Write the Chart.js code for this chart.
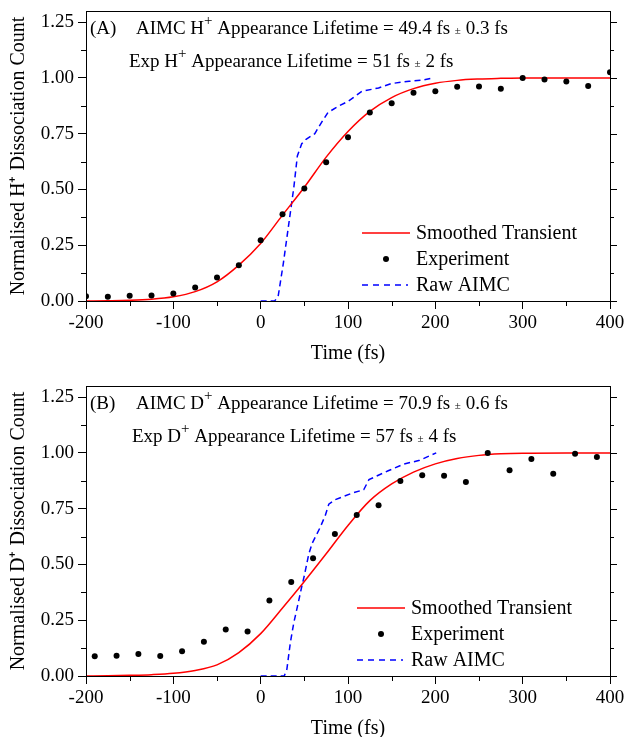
<!DOCTYPE html>
<html>
<head>
<meta charset="utf-8">
<script src="https://cdn.jsdelivr.net/npm/chart.js@4"></script>
<style>
  html, body { margin: 0; padding: 0; background: #fff; overflow: hidden; }
  .panel { position: absolute; left: 0; width: 625px; height: 370px; }
</style>
</head>
<body>
<div class="panel" style="top:0"><canvas id="chartA"></canvas></div>
<div class="panel" style="top:375px"><canvas id="chartB"></canvas></div>
<script>
// panel A : H+
const expTimeA = [-200, -175, -150, -125, -100, -75, -50, -25, 0, 25, 50, 75, 100, 125, 150, 175, 200, 225, 250, 275, 300, 325, 350, 375, 400];
const expCountA = [0.021, 0.019, 0.024, 0.025, 0.034, 0.061, 0.105, 0.160, 0.272, 0.389, 0.504, 0.622, 0.734, 0.845, 0.886, 0.934, 0.940, 0.960, 0.961, 0.952, 1.000, 0.993, 0.984, 0.964, 1.025];
const fitTimeA = [-200, -175, -150, -125, -100, -75, -50, -25, 0, 25, 50, 75, 100, 125, 150, 175, 200, 225, 250, 275, 300, 350, 400];
const fitCountA = [0.000, 0.001, 0.003, 0.008, 0.019, 0.042, 0.086, 0.161, 0.258, 0.385, 0.510, 0.645, 0.760, 0.850, 0.912, 0.952, 0.976, 0.989, 0.995, 0.998, 1.000, 1.000, 1.000];
const rawTimeA = [0, 16, 20, 26, 32, 38, 42, 47, 52, 62, 68, 77, 90, 100, 116, 135, 150, 170, 185, 197];
const rawCountA = [0, 0, 0.02, 0.17, 0.34, 0.51, 0.65, 0.705, 0.725, 0.75, 0.79, 0.845, 0.875, 0.895, 0.94, 0.955, 0.975, 0.985, 0.99, 1.0];

// panel B : D+
const expTimeB = [-190, -165, -140, -115, -90, -65, -40, -15, 10, 35, 60, 85, 110, 135, 160, 185, 210, 235, 260, 285, 310, 335, 360, 385];
const expCountB = [0.088, 0.091, 0.099, 0.090, 0.111, 0.154, 0.208, 0.200, 0.339, 0.421, 0.528, 0.637, 0.722, 0.765, 0.874, 0.900, 0.898, 0.870, 1.000, 0.922, 0.973, 0.907, 0.996, 0.982];
const fitTimeB = [-200, -175, -150, -125, -100, -75, -50, -25, 0, 25, 50, 75, 100, 125, 150, 175, 200, 225, 250, 275, 300, 350, 400];
const fitCountB = [0.000, 0.001, 0.003, 0.006, 0.012, 0.025, 0.050, 0.105, 0.190, 0.305, 0.424, 0.548, 0.675, 0.786, 0.861, 0.914, 0.951, 0.975, 0.989, 0.996, 0.999, 1.000, 1.000];
const rawTimeB = [0, 27, 30, 34, 38, 42, 47, 50, 55, 59, 68, 74, 78, 85, 95, 105, 118, 124, 132, 146, 164, 182, 201];
const rawCountB = [0, 0, 0.03, 0.15, 0.24, 0.31, 0.40, 0.45, 0.545, 0.595, 0.665, 0.72, 0.77, 0.79, 0.805, 0.82, 0.835, 0.88, 0.895, 0.92, 0.95, 0.967, 1.0];

const xTicks = [-200, -100, 0, 100, 200, 300, 400];
const yTicks = [0, 0.25, 0.5, 0.75, 1.0, 1.25];
const legendLabels = ['Smoothed Transient', 'Experiment', 'Raw AIMC'];

const SERIF = '"Liberation Serif", "Times New Roman", serif';

function pts(xs, ys) {
  return xs.map((x, i) => ({ x: x, y: ys[i] }));
}

// text pieces, with superscript and small ±
function drawPieces(ctx, x, y, pieces) {
  pieces.forEach(p => {
    ctx.font = p.size + 'px ' + SERIF;
    ctx.fillText(p.t, x, y - (p.up || 0));
    x += ctx.measureText(p.t).width;
  });
}

const framePlugin = {
  id: 'frame',
  afterDraw(chart) {
    const { ctx, chartArea: a, scales } = chart;
    const o = chart.options.plugins.frame;
    ctx.save();
    ctx.strokeStyle = '#000';
    ctx.lineWidth = 1;
    ctx.strokeRect(a.left + 0.5, a.top + 0.5, a.right - a.left, a.bottom - a.top);

    // minor ticks + mirrored ticks on the right
    ctx.beginPath();
    for (let v = -150; v < 400; v += 100) {
      const px = Math.round(scales.x.getPixelForValue(v)) + 0.5;
      ctx.moveTo(px, a.bottom); ctx.lineTo(px, a.bottom + 5);
    }
    for (let v = 0.125; v < 1.3; v += 0.25) {
      const py = Math.round(scales.y.getPixelForValue(v)) + 0.5;
      ctx.moveTo(a.left, py); ctx.lineTo(a.left - 5, py);
      ctx.moveTo(a.right, py); ctx.lineTo(a.right + 4, py);
    }
    yTicks.forEach(v => {
      const py = Math.round(scales.y.getPixelForValue(v)) + 0.5;
      ctx.moveTo(a.right, py); ctx.lineTo(a.right + 7, py);
    });
    ctx.stroke();

    // annotation text
    ctx.fillStyle = '#000';
    ctx.textBaseline = 'alphabetic';
    ctx.font = '19px ' + SERIF;
    ctx.fillText(o.panel, 90, 34);
    drawPieces(ctx, 136, 34, [
      { t: 'AIMC ' + o.ion, size: 19 },
      { t: '+', size: 15, up: 9 },
      { t: ' Appearance Lifetime = ' + o.aimc + ' fs ', size: 19 },
      { t: '±', size: 11 },
      { t: ' ' + o.aimcErr + ' fs', size: 19 }
    ]);
    drawPieces(ctx, o.expX, 67, [
      { t: 'Exp ' + o.ion, size: 19 },
      { t: '+', size: 15, up: 9 },
      { t: ' Appearance Lifetime = ' + o.exp + ' fs ', size: 19 },
      { t: '±', size: 11 },
      { t: ' ' + o.expErr + ' fs', size: 19 }
    ]);

    // legend
    const lx = o.legX;
    const rows = [233, 259, 285];
    ctx.strokeStyle = '#ff0000';
    ctx.lineWidth = 1.5;
    ctx.beginPath(); ctx.moveTo(lx, rows[0]); ctx.lineTo(lx + 48, rows[0]); ctx.stroke();
    ctx.fillStyle = '#000';
    ctx.beginPath(); ctx.arc(lx + 24, rows[1], 3, 0, Math.PI * 2); ctx.fill();
    ctx.strokeStyle = '#0000ff';
    ctx.setLineDash([6, 5]);
    ctx.beginPath(); ctx.moveTo(lx, rows[2]); ctx.lineTo(lx + 46, rows[2]); ctx.stroke();
    ctx.setLineDash([]);
    ctx.font = '20px ' + SERIF;
    ctx.textBaseline = 'middle';
    legendLabels.forEach((t, i) => ctx.fillText(t, lx + 54, rows[i] + 1));
    ctx.restore();
  }
};

function makeChart(id, ion, exp, fit, raw, notes) {
  const ctx = document.getElementById(id).getContext('2d');
  return new Chart(ctx, {
    type: 'scatter',
    data: {
      datasets: [
        {
          label: legendLabels[0],
          data: fit,
          showLine: true,
          borderColor: '#ff0000',
          borderWidth: 1.5,
          pointRadius: 0,
          cubicInterpolationMode: 'monotone',
          order: 2
        },
        {
          label: legendLabels[1],
          data: exp,
          showLine: false,
          pointRadius: 3,
          pointBackgroundColor: '#000',
          pointBorderWidth: 0,
          order: 1
        },
        {
          label: legendLabels[2],
          data: raw,
          showLine: true,
          borderColor: '#0000ff',
          borderWidth: 1.5,
          borderDash: [6, 4],
          pointRadius: 0,
          tension: 0,
          order: 3
        }
      ]
    },
    options: {
      responsive: true,
      maintainAspectRatio: false,
      animation: false,
      layout: { padding: { top: 11, right: 15, left: 0, bottom: 0 } },
      plugins: {
        legend: { display: false },
        tooltip: { enabled: false },
        frame: notes
      },
      scales: {
        x: {
          type: 'linear',
          min: -200,
          max: 400,
          afterFit(s) { s.height = 69; s.paddingLeft = 0; s.paddingRight = 0; },
          afterBuildTicks(s) { s.ticks = xTicks.map(v => ({ value: v })); },
          ticks: { color: '#000', padding: 3, maxRotation: 0, font: { family: SERIF, size: 19 } },
          grid: { drawOnChartArea: false, tickLength: 8, tickColor: '#000' },
          border: { color: '#000' },
          title: {
            display: true,
            text: 'Time (fs)',
            color: '#000',
            font: { family: SERIF, size: 20, lineHeight: 1 },
            padding: { top: 0, bottom: 6 }
          }
        },
        y: {
          min: 0,
          max: 1.3,
          afterFit(s) { s.width = 86; s.paddingTop = 0; s.paddingBottom = 0; },
          afterBuildTicks(s) { s.ticks = yTicks.map(v => ({ value: v })); },
          ticks: {
            color: '#000',
            padding: 4,
            font: { family: SERIF, size: 19 },
            callback: v => v.toFixed(2)
          },
          grid: { drawOnChartArea: false, tickLength: 8, tickColor: '#000' },
          border: { color: '#000' },
          title: {
            display: true,
            text: 'Normalised ' + ion + '\u207A Dissociation Count',
            color: '#000',
            font: { family: SERIF, size: 20, lineHeight: 1 },
            padding: { top: 9, bottom: 0 }
          }
        }
      }
    },
    plugins: [framePlugin]
  });
}

makeChart('chartA', 'H', pts(expTimeA, expCountA), pts(fitTimeA, fitCountA), pts(rawTimeA, rawCountA),
  { panel: '(A)', ion: 'H', aimc: '49.4', aimcErr: '0.3', exp: '51', expErr: '2', expX: 129, legX: 362 });
makeChart('chartB', 'D', pts(expTimeB, expCountB), pts(fitTimeB, fitCountB), pts(rawTimeB, rawCountB),
  { panel: '(B)', ion: 'D', aimc: '70.9', aimcErr: '0.6', exp: '57', expErr: '4', expX: 132, legX: 357 });
</script>
</body>
</html>
